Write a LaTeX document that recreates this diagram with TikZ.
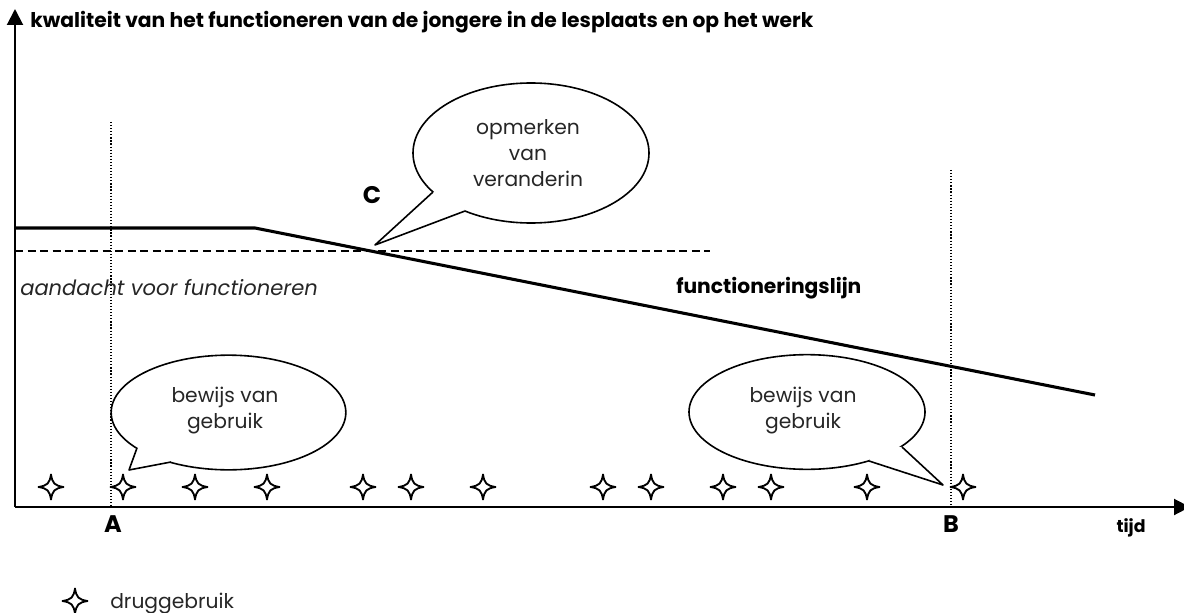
\documentclass[tikz,border=0pt]{standalone}
\usepackage{fontspec}
\setmainfont{Poppins}
\usetikzlibrary{arrows.meta,shapes.geometric}
\tikzset{
  x=0.75pt,y=-0.75pt,
  axisline/.style={draw=black,line width=1.5pt,-{Triangle[length=12pt,width=12pt]}},
  funcline/.style={draw=black,line width=2.3pt},
  refdotted/.style={draw=black,line width=0.9pt,dash pattern=on 0.9pt off 1.4pt},
  refdashed/.style={draw=black,line width=0.9pt,dash pattern=on 6pt off 3.4pt},
  bubble/.style={ellipse,draw=black,fill=white,line width=1.2pt,inner sep=0pt},
  tailedge/.style={draw=black,line width=1.2pt,line join=round},
  boldlabel/.style={font=\fontsize{15.2}{18}\selectfont\bfseries,inner sep=0pt},
  biglabel/.style={font=\fontsize{18}{20}\selectfont\bfseries,inner sep=0pt},
  plainlabel/.style={font=\fontsize{15.2}{19.5}\selectfont,inner sep=0pt,text=black!85},
  starmark/.pic={\draw[black,line width=1.4pt,line join=round,fill=white] (0,-12.5) .. controls (1.5,-3.5) and (3.5,-1.5) .. (12.5,0) .. controls (3.5,1.5) and (1.5,3.5) .. (0,12.5) .. controls (-1.5,3.5) and (-3.5,1.5) .. (-12.5,0) .. controls (-3.5,-1.5) and (-1.5,-3.5) .. cycle;}
}
\begin{document}
\begin{tikzpicture}
\useasboundingbox (0,0) rectangle (1184,613);
% coordinates
\coordinate (origin) at (15,507);
\coordinate (ytop) at (15,9);
\coordinate (xend) at (1190,507);
\coordinate (f1) at (15,228);
\coordinate (f2) at (255,228);
\coordinate (f3) at (1095,395);
\coordinate (d1) at (15,251);
\coordinate (d2) at (710,251);
\coordinate (at) at (111,122);
\coordinate (ab) at (111,507);
\coordinate (bt) at (951,170);
\coordinate (bb) at (951,507);
% guides
\draw[refdotted] (at) -- (ab);
\draw[refdotted] (bt) -- (bb);
\draw[refdashed] (d1) -- (d2);
\draw[funcline] (f1) -- (f2) -- (f3);
% axes
\draw[axisline] (origin) -- (ytop);
\draw[axisline] (origin) -- (xend);
% stars
\foreach \sx in {51,123,195,267,363,411,483,603,651,723,771,867,963}
  \pic at (\sx,487) {starmark};
\pic at (75,601) {starmark};
% bubble C
\node[bubble,minimum width=177pt,minimum height=105pt] (bc) at (531,153) {};
\coordinate (ct) at (375,245);
\coordinate (c1) at (433,192);
\coordinate (c2) at (465,211);
\fill[white] (c1) -- (ct) -- (c2) -- (460,195) -- cycle;
\draw[tailedge] (c1) -- (ct) -- (c2);
\node[plainlabel,align=center] (ctext) at (528,153) {opmerken\\van\\veranderin};
% bubble 1
\node[bubble,minimum width=176pt,minimum height=86pt] (ba) at (228.5,412.5) {};
\coordinate (at1) at (129,470);
\coordinate (a1) at (137,448);
\coordinate (a2) at (171,462);
\fill[white] (a1) -- (at1) -- (a2) -- (160,445) -- cycle;
\draw[tailedge] (a1) -- (at1) -- (a2);
\node[plainlabel,align=center] (atext) at (225,411) {bewijs van\\gebruik};
% bubble 2
\node[bubble,minimum width=177pt,minimum height=86pt] (bb2) at (807,412) {};
\coordinate (bt2) at (943,485);
\coordinate (b1) at (902,447);
\coordinate (b2) at (869,461);
\fill[white] (b1) -- (bt2) -- (b2) -- (880,445) -- cycle;
\draw[tailedge] (b1) -- (bt2) -- (b2);
\node[plainlabel,align=center] (btext) at (803,411) {bewijs van\\gebruik};
% labels
\node[boldlabel,anchor=base west] (title) at (30,28) {kwaliteit van het functioneren van de jongere in de lesplaats en op het werk};
\node[biglabel] (lA) at (113,524) {A};
\node[biglabel] (lB) at (951,524) {B};
\node[biglabel] (lC) at (372,195) {C};
\node[boldlabel,anchor=base,font=\fontsize{13}{15}\selectfont\bfseries] (ltijd) at (1131,532) {tijd};
\node[boldlabel,anchor=base west] (lfunc) at (676,293) {functioneringslijn};
\node[plainlabel,anchor=base west,font=\fontsize{15.8}{18}\selectfont\itshape] (laand) at (20,295) {aandacht voor functioneren};
\node[plainlabel,anchor=base west] (ldrug) at (110,608) {druggebruik};
\end{tikzpicture}
\end{document}
